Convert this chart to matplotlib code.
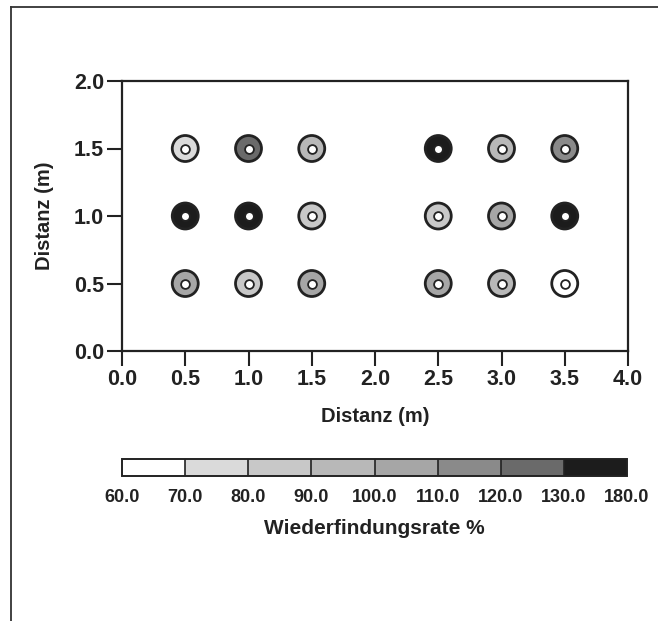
import matplotlib
matplotlib.use("Agg")
import matplotlib.pyplot as plt
from matplotlib.colors import ListedColormap, BoundaryNorm
from matplotlib.lines import Line2D

# ---- data ----
x_pos = [0.5, 1.0, 1.5, 2.5, 3.0, 3.5,
         0.5, 1.0, 1.5, 2.5, 3.0, 3.5,
         0.5, 1.0, 1.5, 2.5, 3.0, 3.5]
y_pos = [1.5, 1.5, 1.5, 1.5, 1.5, 1.5,
         1.0, 1.0, 1.0, 1.0, 1.0, 1.0,
         0.5, 0.5, 0.5, 0.5, 0.5, 0.5]
recovery = [75, 125, 95, 150, 95, 118,
            150, 150, 85, 85, 105, 150,
            105, 85, 105, 108, 92, 65]
class_bounds = [60, 70, 80, 90, 100, 110, 120, 130, 180]
class_grays = ['#ffffff', '#dadada', '#c8c8c8', '#b8b8b8',
               '#a6a6a6', '#8a8a8a', '#6a6a6a', '#1c1c1c']
tick_vals = [0.0, 0.5, 1.0, 1.5, 2.0, 2.5, 3.0, 3.5, 4.0]
ytick_vals = [0.0, 0.5, 1.0, 1.5, 2.0]

plt.rcParams['font.family'] = ['Liberation Sans', 'DejaVu Sans']
plt.rcParams['font.weight'] = 'bold'

W, H = 658, 621
fig = plt.figure(figsize=(W / 100, H / 100), dpi=100)

def fx(px):
    return px / W

def fy(py):
    return 1 - py / H

# outer frame lines (partially visible)
fig.add_artist(Line2D([fx(11), fx(11)], [0, fy(7)], color='#333333', lw=1.3))
fig.add_artist(Line2D([fx(11), 1], [fy(7), fy(7)], color='#333333', lw=1.3))

ax = fig.add_axes([fx(122), fy(351), fx(628) - fx(122), fy(81) - fy(351)])
cmap = ListedColormap(class_grays)
norm = BoundaryNorm(class_bounds, cmap.N)

sc = ax.scatter(x_pos, y_pos, c=recovery, cmap=cmap, norm=norm, s=350,
                edgecolors='#222222', linewidths=2.0, zorder=3)
ax.scatter(x_pos, y_pos, s=40, facecolors='white', edgecolors='#222222',
           linewidths=1.3, zorder=4)

ax.set_xlim(0, 4)
ax.set_ylim(0, 2)
ax.set_xticks(tick_vals)
ax.set_yticks(ytick_vals)
ax.set_xticklabels([f"{v:.1f}" for v in tick_vals])
ax.set_yticklabels([f"{v:.1f}" for v in ytick_vals])
ax.tick_params(direction='out', length=11, width=1.5, labelsize=15.5, pad=2,
               colors='#222222')
for sp in ax.spines.values():
    sp.set_linewidth(1.6)
    sp.set_color('#222222')
ax.set_xlabel('Distanz (m)', fontsize=14.5, fontweight='bold', labelpad=12,
              color='#222222')
ax.set_ylabel('Distanz (m)', fontsize=14.5, fontweight='bold', labelpad=14,
              color='#222222')

cax = fig.add_axes([fx(122), fy(476), fx(627) - fx(122), fy(459) - fy(476)])
cb = fig.colorbar(sc, cax=cax, orientation='horizontal', spacing='uniform',
                  ticks=class_bounds, drawedges=True)
cb.outline.set_linewidth(1.4)
cb.outline.set_edgecolor('#222222')
cb.dividers.set_linewidth(1.2)
cb.dividers.set_color('#222222')
cb.set_ticklabels([f"{v:.1f}" for v in class_bounds])
cax.tick_params(length=0, labelsize=13, pad=9, colors='#222222')
cb.set_label('Wiederfindungsrate %', fontsize=15, fontweight='bold',
             labelpad=10, color='#222222')

fig.savefig('out.png', dpi=100)
